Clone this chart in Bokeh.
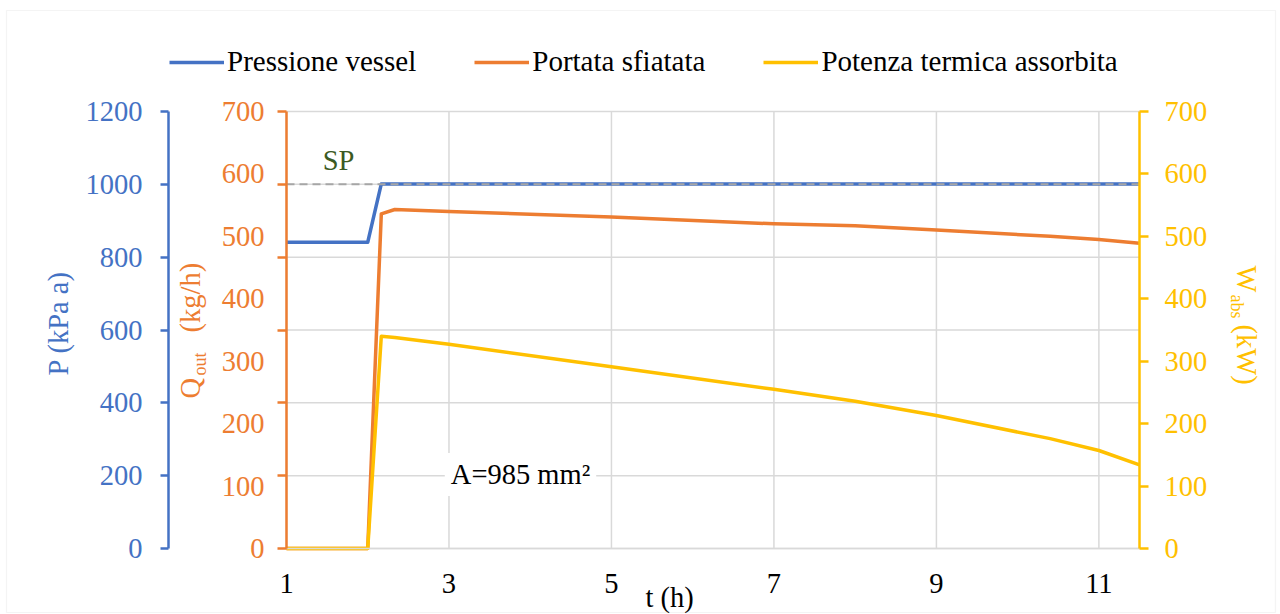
import math
from bokeh.plotting import figure
from bokeh.models import (Range1d, LinearAxis, FixedTicker, Legend, LegendItem,
                          Label, BoxAnnotation, ColumnDataSource)
from bokeh.embed import file_html
from bokeh.resources import INLINE

# ---------------- data ----------------
t_h = [1, 2, 2.167, 2.333, 3, 5, 7, 8, 9, 10.4, 11, 11.5]
pressione_vessel = [841, 841, 1001, 1001, 1001, 1001, 1001, 1001, 1001, 1001, 1001, 1001]   # kPa a
portata_sfiatata = [0, 0, 536, 543, 540, 531, 520, 517, 510, 500, 495, 489]                 # kg/h
potenza_assorbita = [0, 0, 340, 338, 327, 291, 255, 236, 213, 176, 157, 134]                # kW

x_ticks = [1, 3, 5, 7, 9, 11]
p_ticks = [0, 200, 400, 600, 800, 1000, 1200]
q_ticks = [0, 100, 200, 300, 400, 500, 600, 700]
w_ticks = [0, 100, 200, 300, 400, 500, 600, 700]
sp_value = 1000
area_note = "A=985 mm²"
series_names = ["Pressione vessel", "Portata sfiatata", "Potenza termica assorbita"]

# ---------------- style / layout ----------------
BLUE = "#4472C4"
ORANGE = "#ED7D31"
YELLOW = "#FFC000"
GRIDC = "#D9D9D9"
FONT = "Liberation Serif"
FS = "28.5px"
FS_SUB = "18px"

W, H = 1280, 614
X0, X1 = t_h[0], t_h[-1]
P_MAX, Q_MAX, W_MAX = p_ticks[-1], q_ticks[-1], w_ticks[-1]
# plot area on the page (pixels)
PX_L, PX_R = 286, 1139
PY_B, PY_T = 548, 111

def tx(px):
    return X0 + (px - PX_L) * (X1 - X0) / (PX_R - PX_L)

def ty(py, vmax=P_MAX):
    return (PY_B - py) * vmax / (PY_B - PY_T)

p = figure(width=W, height=H,
           x_range=Range1d(tx(0), tx(W)), y_range=Range1d(ty(H), ty(0)),
           output_backend="svg", toolbar_location=None,
           x_axis_location=None, y_axis_location=None, min_border=0)
p.grid.visible = False
p.extra_y_ranges = {"q": Range1d(ty(H, Q_MAX), ty(0, Q_MAX)),
                    "w": Range1d(ty(H, W_MAX), ty(0, W_MAX))}
p.outline_line_color = None
p.background_fill_color = "white"
p.border_fill_color = "white"

# chart-area border
p.add_layout(BoxAnnotation(left=tx(6), right=tx(1275), bottom=ty(612), top=ty(10),
                           fill_alpha=0, line_color=GRIDC, line_width=1.2, level="underlay"))

# grid lines, limited to the plot area
p.segment(x0=x_ticks, x1=x_ticks, y0=[0] * len(x_ticks), y1=[P_MAX] * len(x_ticks),
          line_color=GRIDC, line_width=1.5, level="underlay")
p.segment(x0=[X0] * len(p_ticks), x1=[X1] * len(p_ticks), y0=p_ticks, y1=p_ticks,
          line_color=GRIDC, line_width=1.5, level="underlay")

def style_labels(ax, color):
    ax.major_label_text_font = FONT
    ax.major_label_text_font_size = FS
    ax.major_label_text_color = color

# x axis
xaxis = LinearAxis(ticker=FixedTicker(ticks=x_ticks), fixed_location=0, bounds=(X0, X1))
style_labels(xaxis, "black")
xaxis.major_tick_out = 0
xaxis.major_tick_in = 0
xaxis.minor_tick_line_color = None
xaxis.axis_line_color = GRIDC
xaxis.axis_line_width = 1.5
xaxis.major_label_standoff = 25
p.add_layout(xaxis, "below")

# orange axis: labels every 100, tick marks aligned with the primary grid
q_axis = LinearAxis(y_range_name="q", fixed_location=X0, bounds=(0, Q_MAX),
                    ticker=FixedTicker(ticks=q_ticks,
                                       minor_ticks=[v * Q_MAX / P_MAX for v in p_ticks]))
style_labels(q_axis, ORANGE)
q_axis.axis_line_color = ORANGE
q_axis.axis_line_width = 2.5
q_axis.major_tick_out = 0
q_axis.major_tick_in = 0
q_axis.minor_tick_out = 9
q_axis.minor_tick_in = 0
q_axis.minor_tick_line_color = ORANGE
q_axis.minor_tick_line_width = 2.5
q_axis.major_label_standoff = 13
p.add_layout(q_axis, "left")

# blue axis (outer left)
p_axis = LinearAxis(ticker=FixedTicker(ticks=p_ticks), fixed_location=tx(168), bounds=(0, P_MAX))
style_labels(p_axis, BLUE)
p_axis.axis_line_color = BLUE
p_axis.axis_line_width = 2.5
p_axis.major_tick_out = 8
p_axis.major_tick_in = 0
p_axis.major_tick_line_color = BLUE
p_axis.major_tick_line_width = 2.5
p_axis.minor_tick_line_color = None
p_axis.major_label_standoff = 18
p.add_layout(p_axis, "left")

# yellow axis (right)
w_axis = LinearAxis(y_range_name="w", ticker=FixedTicker(ticks=w_ticks),
                    fixed_location=X1, bounds=(0, W_MAX))
style_labels(w_axis, YELLOW)
w_axis.axis_line_color = YELLOW
w_axis.axis_line_width = 2.5
w_axis.major_tick_out = 9
w_axis.major_tick_in = 0
w_axis.major_tick_line_color = YELLOW
w_axis.major_tick_line_width = 2.5
w_axis.minor_tick_line_color = None
w_axis.major_label_standoff = 16
p.add_layout(w_axis, "right")

# series
src = ColumnDataSource(dict(t=t_h, P=pressione_vessel, Q=portata_sfiatata, Wabs=potenza_assorbita))
r_p = p.line("t", "P", source=src, line_color=BLUE, line_width=3.5, line_join="round")
r_q = p.line("t", "Q", source=src, y_range_name="q", line_color=ORANGE, line_width=3.5, line_join="round")
r_w = p.line("t", "Wabs", source=src, y_range_name="w", line_color=YELLOW, line_width=3.5, line_join="round")

# set point line
p.line(x=[X0, X1], y=[sp_value, sp_value], line_color="#A6A6A6", line_dash="8 5", line_width=2)

def lbl(px, py, text, color="black", size=FS, angle=0.0, align="left", baseline="alphabetic", **kw):
    p.add_layout(Label(x=tx(px), y=ty(py), text=text, angle=angle,
                       text_font=FONT, text_font_size=size, text_color=color,
                       text_align=align, text_baseline=baseline, **kw))

lbl(338, 160, "SP", color="#3C5A23", align="center", baseline="middle")
lbl(520, 474, area_note, align="center", baseline="middle",
    background_fill_color="white", padding=6)
lbl(645, 597, "t (h)")

up = math.pi / 2
down = -math.pi / 2
# P (kPa a)
lbl(58, 375, "P (kPa a)", color=BLUE, angle=up)
# Q_out (kg/h)
lbl(190, 398, "Q", color=ORANGE, angle=up)
lbl(199, 375, "out", color=ORANGE, size=FS_SUB, angle=up)
lbl(190, 332, "(kg/h)", color=ORANGE, angle=up)
# W_abs (kW)
lbl(1246, 265, "W", color=YELLOW, angle=down)
lbl(1236, 294, "abs", color=YELLOW, size=FS_SUB, angle=down)
lbl(1246, 324, "(kW)", color=YELLOW, angle=down)

# legend
legend = Legend(items=[LegendItem(label=series_names[0], renderers=[r_p]),
                       LegendItem(label=series_names[1], renderers=[r_q]),
                       LegendItem(label=series_names[2], renderers=[r_w])],
                orientation="horizontal", location=(169, H - 78),
                padding=0, spacing=58, label_standoff=3, glyph_width=55, glyph_height=20,
                label_text_font=FONT, label_text_font_size="29px", label_text_color="black",
                border_line_color=None, background_fill_alpha=0)
p.add_layout(legend)

open("out.html", "w").write(file_html(p, INLINE))
